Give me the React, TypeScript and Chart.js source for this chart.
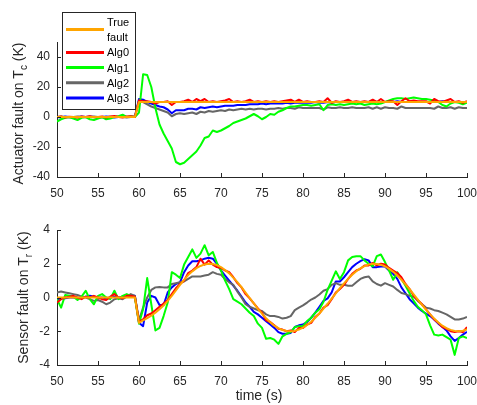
import React, { useEffect, useRef } from "react";
import { Chart, registerables } from "chart.js";

Chart.register(...registerables);

const time = [
  50, 50.5, 51, 51.5, 52, 52.5, 53, 53.5, 54, 54.5,
  55, 55.5, 56, 56.5, 57, 57.5, 58, 58.5, 59, 59.5,
  60, 60.5, 61, 61.5, 62, 62.5, 63, 63.5, 64, 64.5,
  65, 65.5, 66, 66.5, 67, 67.5, 68, 68.5, 69, 69.5,
  70, 70.5, 71, 71.5, 72, 72.5, 73, 73.5, 74, 74.5,
  75, 75.5, 76, 76.5, 77, 77.5, 78, 78.5, 79, 79.5,
  80, 80.5, 81, 81.5, 82, 82.5, 83, 83.5, 84, 84.5,
  85, 85.5, 86, 86.5, 87, 87.5, 88, 88.5, 89, 89.5,
  90, 90.5, 91, 91.5, 92, 92.5, 93, 93.5, 94, 94.5,
  95, 95.5, 96, 96.5, 97, 97.5, 98, 98.5, 99, 99.5,
  100,
];

const xTicks = [50, 55, 60, 65, 70, 75, 80, 85, 90, 95, 100];
const topYTicks = [-40, -20, 0, 20, 40];
const botYTicks = [-4, -2, 0, 2, 4];

const seriesNames = ["True fault", "Alg0", "Alg1", "Alg2", "Alg3"];
const seriesColors = ["#FFA500", "#FF0000", "#00FF00", "#666666", "#0000FF"];

// ---- Actuator fault on Tc (K) ----
const topTrue = [
  0, 0, 0, 0, 0, 0, 0, 0, 0, 0,
  0, 0, 0, 0, 0, 0, 0, 0, 0, 0,
  10, 10, 10, 10, 10, 10, 10, 10, 10, 10,
  10, 10, 10, 10, 10, 10, 10, 10, 10, 10,
  10, 10, 10, 10, 10, 10, 10, 10, 10, 10,
  10, 10, 10, 10, 10, 10, 10, 10, 10, 10,
  10, 10, 10, 10, 10, 10, 10, 10, 10, 10,
  10, 10, 10, 10, 10, 10, 10, 10, 10, 10,
  10, 10, 10, 10, 10, 10, 10, 10, 10, 10,
  10, 10, 10, 10, 10, 10, 10, 10, 10, 10,
  10,
];
const topAlg0 = [
  0, 0.4, -0.3, 0.2, 0, -0.4, 0.3, 0, 0.5, -0.2,
  0, 0.3, -0.3, 0.4, 0.6, 0, -0.3, 0.3, 0.5, 0,
  11, 10.5, 10.5, 10, 9, 10, 10, 10.5, 8, 10,
  10, 10.5, 11.5, 10, 12, 10.5, 12, 10, 10.5, 10,
  10.5, 11, 12, 10, 10.5, 10, 10.5, 11.5, 10, 10.5,
  10, 10.5, 10, 10.5, 10, 10.5, 11, 11.5, 10, 11.5,
  10, 10.5, 10, 10, 10.5, 10, 12.5, 9.5, 10.5, 10,
  10.5, 11.5, 10, 10.5, 10, 10.5, 10, 11.5, 10, 12,
  10, 10.5, 10.5, 8, 10.5, 12.5, 10.5, 11, 10.5, 10.5,
  10.5, 9, 12, 10.5, 10, 11, 12, 10, 10.5, 9.5,
  10.5,
];
const topAlg1 = [
  -3, -1.5, -0.5, 0, -1, -2, -0.5, 0, -1.5, -2,
  -1, 0, -1.5, -1, 0, 0.5, 1.5, 0, 0.5, 0,
  3, 28.5, 28, 20, 6, -5, -11, -16, -21, -30,
  -31.5, -30.5, -28, -25.5, -23, -19, -14, -13, -9, -10,
  -9, -7.5, -6, -4, -3, -2, -1, 0.5, 2, 0.5,
  -1.5, 0, 2, 1.5, 3.5, 4.5, 6, 7, 7, 7.5,
  8, 8, 7.5, 8, 8.5, 4.5, 8, 8.5, 8, 8.5,
  8, 8.5, 9, 8.5, 9, 8, 8.5, 9, 8.5, 9,
  10, 11, 12, 12.5, 12.5, 12, 12.5, 13, 12.5, 12,
  12, 11.5, 11, 10, 8, 7, 9, 10, 9.5, 8.5,
  9.5,
];
const topAlg2 = [
  0, 0.3, 0, -0.3, 0, 0.3, 0, -0.2, 0, 0.3,
  0, -0.3, 0, 0.2, 0, 0.3, 0, -0.3, 0, 0.3,
  11, 10, 8.5, 7, 6, 5, 4, 3, 0.5, 2,
  2.5, 2, 2.5, 3, 2, 3.5, 3, 4, 3.5, 4,
  4.5, 4, 5, 4.5, 5, 5.5, 5, 5.5, 5, 5.5,
  5.5, 5, 5.5, 5.5, 6, 5.5, 6, 6, 5.5, 6.5,
  6, 6, 6, 6, 6, 5, 6.5, 6, 6, 6.5,
  6, 6, 6.5, 6, 6, 6, 6.5, 5.5, 6.5, 5.5,
  6.5, 6, 6, 5.5, 7, 6, 6, 6, 6, 6,
  6, 6, 5.5, 7, 6, 6, 6.5, 5.5, 6.5, 6,
  6,
];
const topAlg3 = [
  0, -0.3, 0.3, 0, -0.3, 0, 0.3, 0, 0.3, 0,
  -0.3, 0, 0.3, 0, -0.3, 0, 0.3, 0, 0, 0.3,
  12, 11.5, 10, 9, 8, 7, 6.5, 5, 2.5, 4.5,
  4.5, 4.5, 5.5, 5.5, 5, 6.5, 6, 6.5, 7, 6.5,
  7, 7.5, 7.5, 7.5, 8, 8, 8, 8.5, 8.5, 8.5,
  9, 8.5, 9, 9, 9, 9, 9.5, 9, 9.5, 9.5,
  9.5, 9.5, 9.5, 10, 9.5, 9.5, 10, 9.5, 10, 10,
  10, 10, 10, 10, 10, 10, 10, 10.5, 10, 10,
  10, 10, 10, 10.5, 10, 10, 10, 10.5, 10, 10,
  10, 10, 10, 10, 10.5, 10, 10, 10, 10, 10,
  10,
];

// ---- Sensor fault on Tr (K) ----
const botTrue = [
  0, 0, 0, 0, 0, 0, 0, 0, 0, 0,
  0, 0, 0, 0, 0, 0, 0, 0, 0, 0,
  -1.5, -1.36, -1.22, -1.07, -0.9, -0.7, -0.47, -0.2, 0.1, 0.42,
  0.75, 1.05, 1.33, 1.55, 1.74, 1.87, 1.96, 2.0, 1.98, 1.92,
  1.8, 1.63, 1.43, 1.18, 0.91, 0.61, 0.29, -0.03, -0.35, -0.67,
  -0.96, -1.23, -1.47, -1.67, -1.82, -1.93, -1.99, -2.0, -1.98, -1.9,
  -1.79, -1.63, -1.44, -1.2, -0.95, -0.66, -0.37, -0.06, 0.25, 0.55,
  0.84, 1.1, 1.35, 1.56, 1.73, 1.86, 1.95, 2.0, 1.99, 1.94,
  1.84, 1.7, 1.52, 1.3, 1.05, 0.78, 0.49, 0.18, -0.12, -0.43,
  -0.72, -1.0, -1.25, -1.48, -1.67, -1.82, -1.92, -1.99, -2.0, -1.97,
  -1.89,
];
const botAlg0 = [
  -0.3, -0.1, 0, 0.05, 0.1, 0, -0.1, 0.05, 0, 0.1,
  0, -0.1, -0.15, 0.05, 0.2, 0, -0.05, 0.1, 0.1, 0.05,
  -1.45, -1.3, -1.05, -0.95, -0.75, -0.55, -0.35, -0.15, 0.2, 0.55,
  0.8, 1.0, 1.45, 1.6, 1.8, 2.3, 1.95, 2.2, 1.95, 1.8,
  1.75, 1.6, 1.5, 1.2, 0.85, 0.6, 0.2, -0.05, -0.35, -0.65,
  -0.9, -1.35, -1.45, -1.65, -1.85, -1.9, -2.0, -1.95, -2.05, -1.8,
  -1.8, -1.6, -1.5, -1.15, -0.95, -0.6, -0.45, -0.1, 0.3, 0.5,
  0.75, 1.1, 1.4, 1.6, 1.7, 1.9, 1.9, 2.05, 1.9, 2.0,
  1.95, 1.75, 1.6, 1.45, 1.2, 0.8, 0.5, 0.1, -0.15, -0.4,
  -0.7, -1.0, -1.3, -1.5, -1.75, -1.85, -2.0, -2.05, -2.0, -2.05,
  -1.75,
];
const botAlg1 = [
  -0.1, -0.6, 0.15, 0.1, 0.05, -0.15, 0.05, 0.4, -0.1, -0.4,
  0.1, 0.2, 0, -0.1, 0.4, -0.1, 0.1, 0.2, 0.1, 0,
  -1.55, -0.7, 1.15, -0.4, -1.95, -1.8, -1.1, -0.3, 1.5, 1.35,
  1.15, 1.95, 2.4, 2.85, 2.35, 2.6, 3.1, 2.5, 2.7, 2.05,
  1.6, 1.0, 0.5, -0.1, -0.25, -0.4, -0.65, -0.9, -1.1, -1.55,
  -1.8, -2.45, -2.4, -2.5, -2.75, -2.3, -2.15, -2.05, -1.75, -1.7,
  -1.7, -1.4, -1.2, -0.9, -0.7, -0.25, 0.45, 1.0, 1.55, 1.1,
  1.5, 2.2, 2.4, 2.45, 2.45, 2.2, 2.0, 1.85, 2.45, 2.55,
  2.1, 1.6, 1.05, 1.5, 1.1, 0.7, 0.25, -0.2, -0.55, -0.75,
  -1.0, -1.65, -2.2, -2.25, -2.2, -2.35, -2.5, -3.4, -2.4, -2.3,
  -2.4,
];
const botAlg2 = [
  0.3, 0.35, 0.3, 0.25, 0.2, 0.15, 0.05, 0, -0.1, -0.2,
  -0.15, -0.25, -0.4, -0.3, -0.1, -0.05, -0.1, 0.05, 0.2, 0.1,
  -1.35, -0.6, 0.0, 0.45, 0.6, 0.62, 0.6, 0.6, 0.8, 0.85,
  0.9, 0.95, 1.1, 1.25, 1.25, 1.25, 1.3, 1.35, 1.5, 1.4,
  1.35, 1.1, 0.9, 0.75, 0.35, 0.0, -0.4, -0.55, -0.65, -0.75,
  -0.8, -1.0, -1.1, -1.1, -1.15, -1.25, -1.2, -1.1, -0.75, -0.6,
  -0.47, -0.3, -0.12, 0.0, 0.18, 0.4, 0.5, 0.75, 0.85, 0.75,
  0.75, 0.7, 0.7, 0.9, 1.1, 1.2, 1.25, 0.95, 0.8, 0.7,
  0.85, 0.75, 0.65, 0.45, 0.27, 0.2, 0.1, 0.05, -0.2, -0.4,
  -0.6, -0.65, -0.75, -0.8, -0.9, -1.0, -1.15, -1.3, -1.3, -1.25,
  -1.15,
];
const botAlg3 = [
  -0.1, -0.05, -0.05, 0, 0, -0.05, 0, 0.05, 0.1, 0.05,
  0, 0, -0.05, 0, 0.05, 0, 0.05, 0.05, 0.1, 0.1,
  -1.5, -1.7, -0.3, 0.1, 0.0, -0.45, -0.45, 0.3, 0.6, 0.8,
  0.9, 1.5, 1.9, 2.15, 2.15, 2.2, 2.3, 2.35, 2.3, 2.0,
  1.6, 1.3, 1.0, 0.7, 0.4, 0.05, -0.3, -0.55, -0.85, -1.0,
  -1.2, -1.4, -1.6, -1.8, -2.05, -2.15, -2.15, -2.1, -1.75, -1.65,
  -1.6, -1.45, -1.2, -0.9, -0.55, -0.2, -0.05, 0.3, 0.95, 0.95,
  1.2, 1.5, 1.8, 2.0, 2.15, 2.27, 2.2, 1.8, 1.8, 1.84,
  1.84, 1.6, 1.4, 1.1, 0.6, 0.25, -0.1, -0.35, -0.6, -0.8,
  -0.95, -1.1, -1.3, -1.55, -1.75, -1.95, -2.3, -2.57, -2.4, -2.2,
  -2.04,
];

const AXIS = "#262626";
const FONT = "'Liberation Sans', Arial, Helvetica, sans-serif";

function makeDatasets(series: number[][]) {
  return series.map((vals, k) => ({
    label: seriesNames[k],
    data: time.map((t, i) => ({ x: t, y: vals[i] })),
    borderColor: seriesColors[k],
    backgroundColor: seriesColors[k],
    borderWidth: 2,
    pointRadius: 0,
    tension: 0,
    fill: false,
    borderJoinStyle: "round" as const,
  }));
}

const inwardTicks = {
  id: "inwardTicks",
  afterDatasetsDraw(chart: any) {
    const { ctx, chartArea, scales } = chart;
    ctx.save();
    ctx.strokeStyle = AXIS;
    ctx.lineWidth = 1;
    ctx.beginPath();
    scales.x.ticks.forEach((t: any) => {
      const px = Math.round(scales.x.getPixelForValue(t.value)) + 0.5;
      ctx.moveTo(px, chartArea.bottom);
      ctx.lineTo(px, chartArea.bottom - 4);
    });
    scales.y.ticks.forEach((t: any) => {
      const py = Math.round(scales.y.getPixelForValue(t.value)) + 0.5;
      ctx.moveTo(chartArea.left, py);
      ctx.lineTo(chartArea.left + 4, py);
    });
    ctx.stroke();
    ctx.restore();
  },
};

function yTitle(main: string, sub: string, rest: string, bx: number, dy: number) {
  return {
    id: "yTitle",
    afterDraw(chart: any) {
      const { ctx, chartArea } = chart;
      const mainFont = `14px ${FONT}`;
      const subFont = `10px ${FONT}`;
      ctx.save();
      ctx.font = mainFont;
      const w1 = ctx.measureText(main).width;
      const w3 = ctx.measureText(rest).width;
      ctx.font = subFont;
      const w2 = ctx.measureText(sub).width;
      const total = w1 + w2 + w3;
      const cy = (chartArea.top + chartArea.bottom) / 2 + dy;
      ctx.translate(bx, cy);
      ctx.rotate(-Math.PI / 2);
      ctx.fillStyle = AXIS;
      ctx.textAlign = "left";
      ctx.textBaseline = "alphabetic";
      let s = -total / 2;
      ctx.font = mainFont;
      ctx.fillText(main, s, 0);
      s += w1;
      ctx.font = subFont;
      ctx.fillText(sub, s, 4);
      s += w2;
      ctx.font = mainFont;
      ctx.fillText(rest, s, 0);
      ctx.restore();
    },
  };
}

const xTitle = {
  id: "xTitle",
  afterDraw(chart: any) {
    const { ctx, chartArea } = chart;
    ctx.save();
    ctx.font = `14px ${FONT}`;
    ctx.fillStyle = AXIS;
    ctx.textAlign = "center";
    ctx.textBaseline = "alphabetic";
    ctx.fillText("time (s)", (chartArea.left + chartArea.right) / 2 - 3, chartArea.bottom + 35);
    ctx.restore();
  },
};

const legendBox = {
  id: "mlLegend",
  afterDraw(chart: any) {
    const { ctx } = chart;
    const x0 = 62, y0 = 12, w = 73, h = 97;
    ctx.save();
    ctx.fillStyle = "#ffffff";
    ctx.fillRect(x0, y0, w, h);
    ctx.strokeStyle = AXIS;
    ctx.lineWidth = 1;
    ctx.strokeRect(x0 + 0.5, y0 + 0.5, w, h);
    ctx.font = `11px ${FONT}`;
    ctx.textBaseline = "middle";
    ctx.textAlign = "left";
    const textX = 107;
    const maxW = x0 + w - textX - 1;
    const step = 15.2;
    let y = 23;
    chart.data.datasets.forEach((ds: any) => {
      const words = String(ds.label).split(" ");
      const lines: string[] = [];
      let cur = "";
      words.forEach((wd) => {
        const test = cur ? cur + " " + wd : wd;
        if (cur && ctx.measureText(test).width > maxW) {
          lines.push(cur);
          cur = wd;
        } else cur = test;
      });
      if (cur) lines.push(cur);
      const mid = y + ((lines.length - 1) * step) / 2 - 1;
      ctx.strokeStyle = ds.borderColor;
      ctx.lineWidth = 3;
      ctx.beginPath();
      ctx.moveTo(66, mid);
      ctx.lineTo(104, mid);
      ctx.stroke();
      ctx.fillStyle = "#000000";
      lines.forEach((ln, j) => ctx.fillText(ln, textX, y + j * step));
      y += lines.length * step;
    });
    ctx.restore();
  },
};

function baseOptions(yMin: number, yMax: number, yTicks: number[], padTop: number, xHeight: number) {
  return {
    responsive: false,
    animation: false as const,
    devicePixelRatio: 1,
    layout: { padding: { left: 0, right: 10, top: padTop, bottom: 0 } },
    plugins: { legend: { display: false }, tooltip: { enabled: false }, title: { display: false } },
    scales: {
      x: {
        type: "linear" as const,
        min: 50,
        max: 100,
        afterBuildTicks: (s: any) => {
          s.ticks = xTicks.map((v) => ({ value: v }));
        },
        afterFit: (s: any) => {
          s.height = xHeight;
          s.paddingLeft = 0;
          s.paddingRight = 0;
        },
        grid: { display: false, drawTicks: false },
        border: { display: true, color: AXIS, width: 1 },
        ticks: { color: AXIS, font: { size: 12, family: FONT }, padding: 9, maxRotation: 0, autoSkip: false },
      },
      y: {
        type: "linear" as const,
        min: yMin,
        max: yMax,
        afterBuildTicks: (s: any) => {
          s.ticks = yTicks.map((v) => ({ value: v }));
        },
        afterFit: (s: any) => {
          s.width = 57;
          s.paddingTop = 0;
          s.paddingBottom = 0;
        },
        grid: { display: false, drawTicks: false },
        border: { display: true, color: AXIS, width: 1 },
        ticks: { color: AXIS, font: { size: 12, family: FONT }, padding: 7 },
      },
    },
  };
}

export default function App() {
  const topRef = useRef<HTMLCanvasElement | null>(null);
  const botRef = useRef<HTMLCanvasElement | null>(null);

  useEffect(() => {
    Chart.defaults.font.family = FONT;
    const top = new Chart(topRef.current as HTMLCanvasElement, {
      type: "line",
      data: { datasets: makeDatasets([topTrue, topAlg0, topAlg1, topAlg2, topAlg3]) },
      options: baseOptions(-40, 50, topYTicks, 42, 23) as any,
      plugins: [inwardTicks, yTitle("Actuator fault on T", "c", " (K)", 22.5, 4), legendBox],
    });
    const bot = new Chart(botRef.current as HTMLCanvasElement, {
      type: "line",
      data: { datasets: makeDatasets([botTrue, botAlg0, botAlg1, botAlg2, botAlg3]) },
      options: baseOptions(-4, 4, botYTicks, 30, 40) as any,
      plugins: [inwardTicks, yTitle("Sensor fault on T", "r", " (K)", 28, 0), xTitle],
    });
    return () => {
      top.destroy();
      bot.destroy();
    };
  }, []);

  return (
    <div style={{ position: "absolute", left: 0, top: 0, width: 477, height: 405, background: "#fff" }}>
      <canvas ref={topRef} width={477} height={200} style={{ display: "block", width: 477, height: 200 }} />
      <canvas ref={botRef} width={477} height={205} style={{ display: "block", width: 477, height: 205 }} />
    </div>
  );
}
